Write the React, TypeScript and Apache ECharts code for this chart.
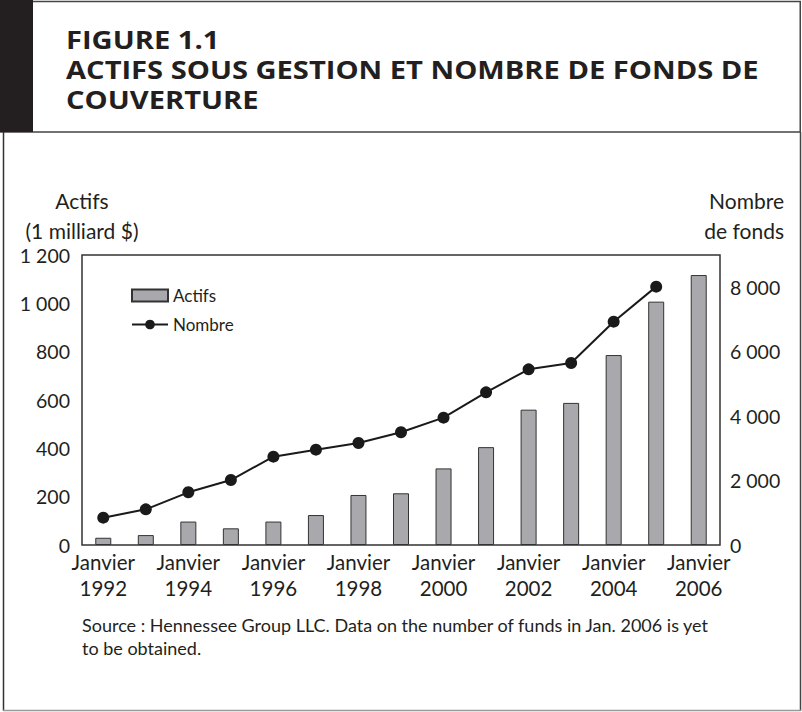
import React, { useEffect, useRef } from "react";
import * as echarts from "echarts";

const years = ["1992","1993","1994","1995","1996","1997","1998","1999","2000","2001","2002","2003","2004","2005","2006"];
const actifs = [30, 41, 97, 69, 97, 124, 207, 214, 317, 405, 560, 588, 786, 1007, 1117];
const nombre: (number | null)[] = [848, 1107, 1635, 2017, 2741, 2959, 3166, 3497, 3952, 4738, 5452, 5649, 6931, 8018, null];
const titleLines = ["FIGURE 1.1", "ACTIFS SOUS GESTION ET NOMBRE DE FONDS DE", "COUVERTURE"];
const sourceText = "Source : Hennessee Group LLC. Data on the number of funds in Jan. 2006 is yet\nto be obtained.";

const FONT = "Lato";
const TITLE_FONT = "Open Sans";
const fmt = (v: number) => {
  const s = String(Math.round(v));
  return s.length > 3 ? s.slice(0, s.length - 3) + " " + s.slice(-3) : s;
};

export default function App() {
  const ref = useRef<HTMLDivElement>(null);
  useEffect(() => {
    if (!ref.current) return;
    const chart = echarts.init(ref.current, undefined, { renderer: "svg" });
    chart.setOption({
      animation: false,
      backgroundColor: "#ffffff",
      textStyle: { fontFamily: FONT, color: "#231f20" },
      grid: { left: 82, right: 82, top: 255, bottom: 167, show: true, borderColor: "#333", borderWidth: 1.5, containLabel: false },
      legend: {
        left: 126, top: 282, orient: "vertical", itemWidth: 36, itemHeight: 12, itemGap: 12,
        textStyle: { fontFamily: FONT, fontSize: 17, color: "#231f20" },
        data: [
          { name: "Actifs", icon: "rect" },
          { name: "Nombre" },
        ],
      },
      xAxis: {
        type: "category", data: years, boundaryGap: true,
        axisLine: { show: false }, axisTick: { show: false },
        axisLabel: {
          interval: 1, margin: 4, fontFamily: FONT, fontSize: 20.5, lineHeight: 26, color: "#231f20",
          formatter: (v: string) => "Janvier\n" + v,
        },
      },
      yAxis: [
        {
          type: "value", min: 0, max: 1200, interval: 200, position: "left",
          axisLine: { show: false }, axisTick: { show: false }, splitLine: { show: false },
          axisLabel: { margin: 12, fontFamily: FONT, fontSize: 19.5, color: "#231f20", formatter: (v: number) => fmt(v) },
        },
        {
          type: "value", min: 0, max: 9000, interval: 2000, position: "right",
          axisLine: { show: false }, axisTick: { show: false }, splitLine: { show: false },
          axisLabel: { margin: 10, showMaxLabel: false, fontFamily: FONT, fontSize: 19.5, color: "#231f20", formatter: (v: number) => (v === 9000 ? "" : fmt(v)) },
        },
      ],
      series: [
        {
          name: "Actifs", type: "bar", data: actifs, barWidth: 16, yAxisIndex: 0,
          itemStyle: { color: "#a9a9ad", borderColor: "#333", borderWidth: 1 },
        },
        {
          name: "Nombre", type: "line", data: nombre, yAxisIndex: 1, connectNulls: false,
          symbol: "circle", symbolSize: 12,
          lineStyle: { color: "#1a1a1a", width: 2 },
          itemStyle: { color: "#1a1a1a" },
        },
      ],
      graphic: [
        { type: "rect", shape: { x: 0.75, y: 1.5, width: 799.5, height: 130.5 }, style: { fill: "none", stroke: "#444", lineWidth: 1.5 } },
        { type: "rect", shape: { x: 0, y: 0, width: 33, height: 132 }, style: { fill: "#231f20" } },
        { type: "line", shape: { x1: 3.5, y1: 132, x2: 3.5, y2: 711 }, style: { stroke: "#333", lineWidth: 1.5 } },
        { type: "line", shape: { x1: 800.5, y1: 132, x2: 800.5, y2: 711 }, style: { stroke: "#444", lineWidth: 1.5 } },
        { type: "line", shape: { x1: 3, y1: 710.5, x2: 801, y2: 710.5 }, style: { stroke: "#999", lineWidth: 1.5 } },
        ...titleLines.map((t, i) => ({
          type: "text", x: 66, y: 39 + i * 30, scaleX: 1.165,
          style: { text: t, fontFamily: TITLE_FONT, fontWeight: "bold", fontSize: 25, fill: "#231f20", verticalAlign: "middle", align: "left" },
        })),
        { type: "text", x: 82, y: 200, style: { text: "Actifs", fontFamily: FONT, fontSize: 21, fill: "#231f20", align: "center", verticalAlign: "middle" } },
        { type: "text", x: 82, y: 230, style: { text: "(1 milliard $)", fontFamily: FONT, fontSize: 21, fill: "#231f20", align: "center", verticalAlign: "middle" } },
        { type: "text", x: 784, y: 200, style: { text: "Nombre", fontFamily: FONT, fontSize: 21, fill: "#231f20", align: "right", verticalAlign: "middle" } },
        { type: "text", x: 784, y: 230, style: { text: "de fonds", fontFamily: FONT, fontSize: 21, fill: "#231f20", align: "right", verticalAlign: "middle" } },
        { type: "text", x: 82, y: 613, style: { text: sourceText, fontFamily: FONT, fontSize: 18, lineHeight: 23, fill: "#231f20", align: "left", verticalAlign: "top" } },
      ],
    });
    return () => chart.dispose();
  }, []);
  return <div ref={ref} style={{ position: "fixed", left: 0, top: 0, width: 802, height: 712 }} />;
}
